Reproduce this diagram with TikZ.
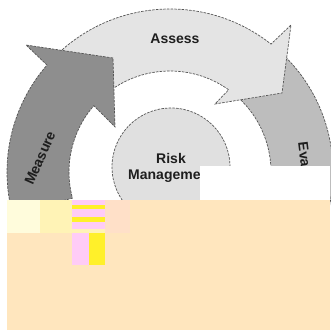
\documentclass[tikz,border=0pt]{standalone}
\usepackage{fontspec}
\setmainfont{Liberation Sans}
\definecolor{assessgray}{HTML}{E4E4E4}
\definecolor{evalgray}{HTML}{BDBDBD}
\definecolor{measgray}{HTML}{8E8E8E}
\definecolor{riskgray}{HTML}{E0E0E0}
\definecolor{linegray}{HTML}{555555}
\definecolor{txtdark}{HTML}{1E1E1E}
\definecolor{beige}{HTML}{FFE6BE}
\definecolor{paleyellow}{HTML}{FFFCDC}
\definecolor{softyellow}{HTML}{FFF3B6}
\definecolor{pinkish}{HTML}{FFCCF6}
\definecolor{brightyellow}{HTML}{FFF02A}
\definecolor{peach}{HTML}{FFE0C8}
\begin{document}
\begin{tikzpicture}[x=1pt,y=-1pt,
  band/.style={draw=linegray, dash pattern=on 2.5pt off 1.2pt, line width=0.7pt},
  lbl/.style={font=\bfseries\fontsize{14}{16}\selectfont, text=txtdark, inner sep=0pt},
  patch/.style={draw=none}]
\useasboundingbox (0,0) rectangle (330,331);
\fill[white] (0,0) rectangle (330,331);
\coordinate (c) at (170,172);
% Evaluate band
\path[band, fill=evalgray] ([shift={(310:163)}]c) arc[start angle=310,end angle=400,radius=163]
  -- ([shift={(400:101)}]c) arc[start angle=400,end angle=310,radius=101] -- cycle;
% Assess arrow
\coordinate (aw) at (291,25);
\coordinate (at) at (282,93);
\coordinate (ai) at (215,104);
\path[band, fill=assessgray] ([shift={(226:163)}]c) arc[start angle=226,end angle=308.3,radius=163]
  -- (aw) -- (at) -- (ai) -- ([shift={(305.5:101)}]c) arc[start angle=305.5,end angle=226,radius=101] -- cycle;
% Measure arrow
\coordinate (mw) at (26,45);
\coordinate (mt) at (113,58);
\coordinate (mi) at (115,127);
\path[band, fill=measgray] ([shift={(165:163)}]c) arc[start angle=165,end angle=221,radius=163]
  -- (mw) -- (mt) -- (mi) -- ([shift={(221:101)}]c) arc[start angle=221,end angle=165,radius=101] -- cycle;
% labels on ring
\node[lbl] (assess) at (175,39) {Assess};
\node[lbl, rotate=66] (measure) at (40,158) {Measure};
\node[lbl, rotate=-83, anchor=west] (evaluate) at (303,142) {Evaluate};
% centre circle
\node[circle, band, fill=riskgray, minimum size=118pt, inner sep=0pt] (risk) at (171,167) {};
\node[lbl] (risktxt) at (171,158) {Risk};
\node[lbl] (mgmttxt) at (171,176) {Management};
% covering blocks
\fill[white] (200,166) rectangle (330,200);
\fill[beige] (7,200) rectangle (330,330);
\fill[paleyellow] (7,200) rectangle (40,233);
\fill[softyellow] (40,200) rectangle (72,233);
\fill[pinkish] (72,200) rectangle (105,233);
\fill[brightyellow] (72,205) rectangle (105,209);
\fill[brightyellow] (72,217) rectangle (105,222);
\fill[softyellow] (72,229) rectangle (105,233);
\fill[peach] (105,200) rectangle (130,233);
\fill[pinkish] (72,233) rectangle (89,265);
\fill[brightyellow] (89,233) rectangle (105,265);
\end{tikzpicture}
\end{document}
